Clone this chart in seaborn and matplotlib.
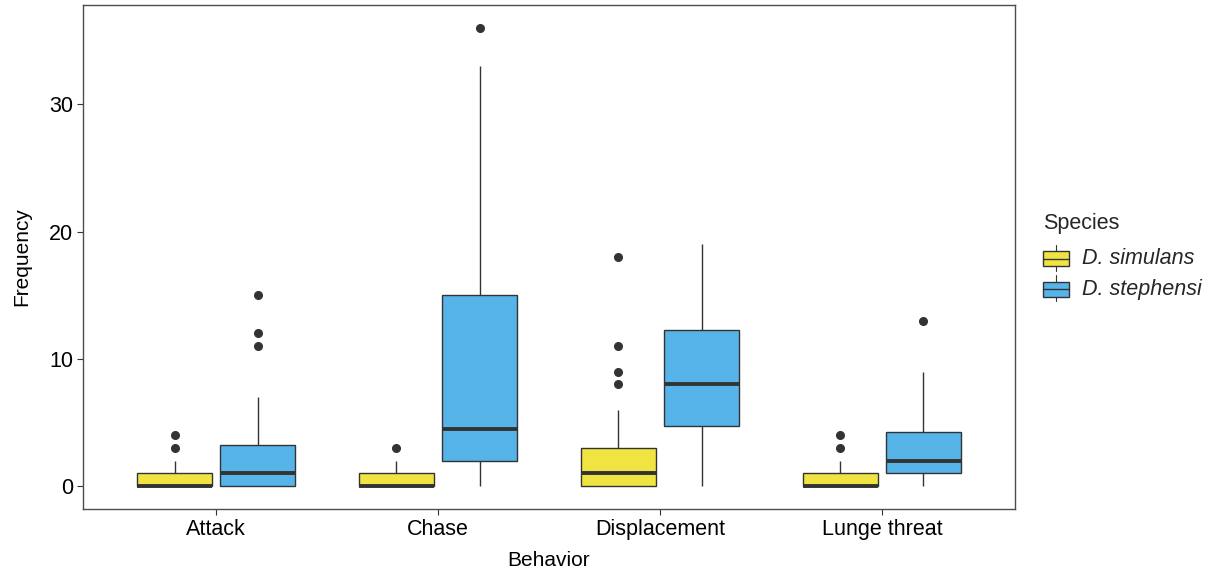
import matplotlib
matplotlib.use("Agg")
import matplotlib.pyplot as plt
import seaborn as sns
import pandas as pd
from matplotlib.legend_handler import HandlerBase
from matplotlib.patches import Rectangle
from matplotlib.lines import Line2D

behaviors = ["Attack", "Chase", "Displacement", "Lunge threat"]
species = ["D. simulans", "D. stephensi"]
colors = ["#F0E442", "#56B4E9"]

attack_simulans = [0, 0, 0, 0, 0, 0, 0, 0, 0, 0, 0, 1, 1, 1, 1, 1, 2, 2, 3, 4]
attack_stephensi = [0, 0, 0, 0, 0, 0, 1, 1, 1, 1, 1, 2, 2, 3, 3, 4, 7, 11, 12, 15]
chase_simulans = [0, 0, 0, 0, 0, 0, 0, 0, 0, 0, 0, 1, 1, 1, 1, 1, 2, 2, 2, 3]
chase_stephensi = [0, 1, 1, 2, 2, 2, 3, 3, 4, 4, 5, 6, 8, 12, 15, 15, 20, 25, 33, 36]
displacement_simulans = [0, 0, 0, 0, 0, 0, 0, 1, 1, 1, 1, 1, 1, 2, 2, 2, 2, 3, 3,
                         6, 8, 9, 11, 18]
displacement_stephensi = [0, 1, 2, 3, 4, 5, 6, 7, 8, 8, 8, 9, 10, 11, 12, 13, 14,
                          16, 18, 19]
lunge_simulans = [0, 0, 0, 0, 0, 0, 0, 0, 0, 0, 0, 1, 1, 1, 1, 1, 2, 2, 3, 4]
lunge_stephensi = [0, 0, 1, 1, 1, 1, 1, 2, 2, 2, 2, 3, 3, 4, 4, 5, 6, 7, 9, 13]

groups = {
    ("Attack", "D. simulans"): attack_simulans,
    ("Attack", "D. stephensi"): attack_stephensi,
    ("Chase", "D. simulans"): chase_simulans,
    ("Chase", "D. stephensi"): chase_stephensi,
    ("Displacement", "D. simulans"): displacement_simulans,
    ("Displacement", "D. stephensi"): displacement_stephensi,
    ("Lunge threat", "D. simulans"): lunge_simulans,
    ("Lunge threat", "D. stephensi"): lunge_stephensi,
}
rows = []
for (b, s), vals in groups.items():
    for v in vals:
        rows.append({"Behavior": b, "Species": s, "Frequency": v})
df = pd.DataFrame(rows)

# ---------------- style ----------------
sns.set_style("white")
plt.rcParams["font.family"] = ["Liberation Sans", "DejaVu Sans"]

W, H = 1222, 575
fig = plt.figure(figsize=(W / 100, H / 100), dpi=100)
ax = fig.add_axes([83 / W, 66 / H, 932 / W, 504 / H])

edge = "#333333"
sns.boxplot(
    data=df, x="Behavior", y="Frequency", hue="Species",
    order=behaviors, hue_order=species, palette=colors, saturation=1,
    width=0.75, gap=0.1, linewidth=1.0, linecolor=edge,
    showcaps=False,
    medianprops=dict(color=edge, linewidth=2.8),
    whiskerprops=dict(color=edge, linewidth=1.0),
    flierprops=dict(marker="o", markerfacecolor=edge, markeredgecolor=edge,
                    markersize=5.5),
    legend=False, ax=ax,
)

ax.set_xlim(-0.6, 3.6)
ax.set_ylim(-1.8, 37.8)
ax.set_yticks([0, 10, 20, 30])
ax.set_xticks(range(len(behaviors)))
ax.set_xticklabels(behaviors)
ax.set_xlabel("Behavior", fontsize=15, color="black", labelpad=8)
ax.set_ylabel("Frequency", fontsize=15, color="black", labelpad=13)
ax.tick_params(axis="both", bottom=True, left=True, labelsize=15.5,
               labelcolor="black", color=edge, length=4, width=0.8,
               direction="out", pad=3)
for sp in ax.spines.values():
    sp.set_visible(True)
    sp.set_color("#4d4d4d")
    sp.set_linewidth(1.0)
ax.grid(False)


# ---------------- legend with boxplot glyph keys ----------------
class BoxKeyHandler(HandlerBase):
    def create_artists(self, legend, orig_handle, xdescent, ydescent, width,
                       height, fontsize, trans):
        fc = orig_handle.get_facecolor()
        x0, y0 = -xdescent, -ydescent
        lo, hi = 0.13, 0.75
        rect = Rectangle((x0, y0 + lo * height), width, (hi - lo) * height,
                         facecolor=fc, edgecolor=edge, linewidth=1.0,
                         transform=trans)
        med = Line2D([x0, x0 + width], [y0 + 0.5 * (lo + hi) * height] * 2,
                     color=edge, linewidth=1.0, transform=trans)
        cx = x0 + width / 2
        w1 = Line2D([cx, cx], [y0 - 0.05 * height, y0 + lo * height],
                    color=edge, linewidth=0.8, transform=trans)
        w2 = Line2D([cx, cx], [y0 + hi * height, y0 + 1.02 * height],
                    color=edge, linewidth=0.8, transform=trans)
        return [w1, w2, rect, med]


handles = [Rectangle((0, 0), 1, 1, facecolor=c) for c in colors]
leg = fig.legend(
    handles, species, handler_map={Rectangle: BoxKeyHandler()},
    loc="upper left", bbox_to_anchor=(1043 / W, 1 - 213 / H),
    frameon=False, title="Species", alignment="left",
    prop=dict(size=15.5, style="italic"),
    title_fontproperties=dict(size=15.5),
    handlelength=1.2, handleheight=1.35, labelspacing=0.3,
    handletextpad=0.6, borderpad=0, borderaxespad=0,
)
# a little extra room between the legend title and its entries
leg._legend_box.sep = 0.3 * 15.5 + 3.4

fig.savefig("out.png", dpi=100)
